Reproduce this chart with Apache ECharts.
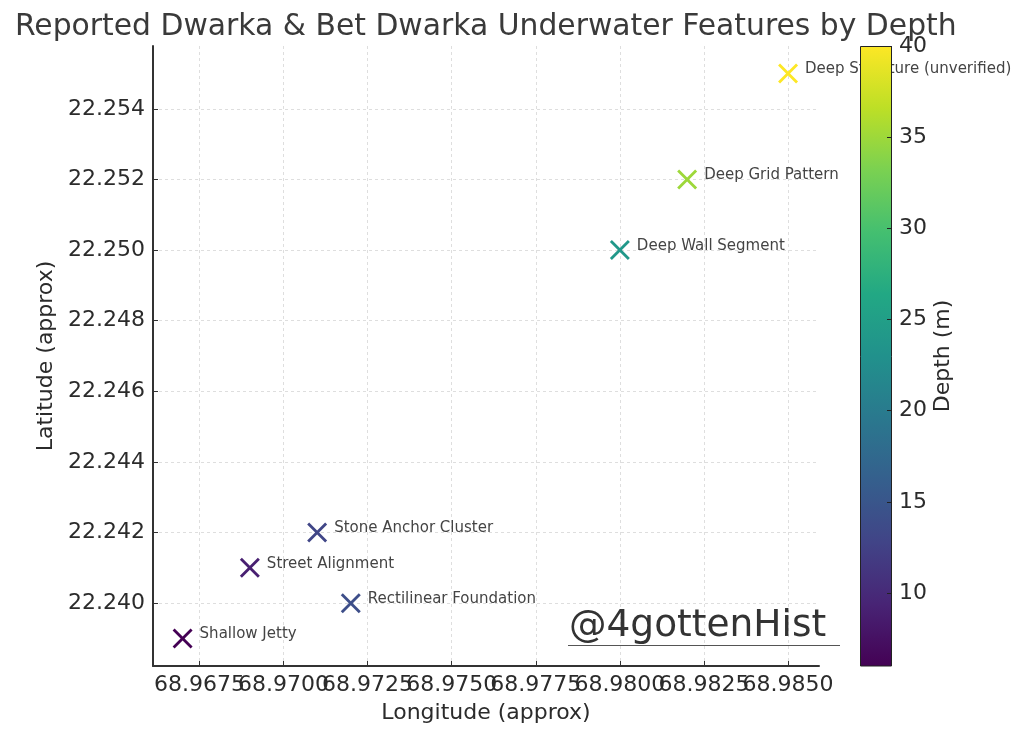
<!DOCTYPE html>
<html><head><meta charset="utf-8">
<style>html,body{margin:0;padding:0;background:#fff}#c{width:1024px;height:736px}</style>
<script src="https://cdn.jsdelivr.net/npm/echarts@6/dist/echarts.min.js"></script>
</head><body><div id="c"></div>
<script>
const names = ['Shallow Jetty','Street Alignment','Stone Anchor Cluster','Rectilinear Foundation','Deep Wall Segment','Deep Grid Pattern','Deep Structure (unverified)'];
const longitudes = [68.967,68.969,68.971,68.972,68.980,68.982,68.985];
const latitudes = [22.239,22.241,22.242,22.240,22.250,22.252,22.255];
const depths = [6,9,13,14,24,35,40];
const xTicks = [68.9675,68.97,68.9725,68.975,68.9775,68.98,68.9825,68.985];
const yTicks = [22.24,22.242,22.244,22.246,22.248,22.25,22.252,22.254];
const depthTicks = [10,15,20,25,30,35,40];
const viridis = ['#440154','#482475','#414487','#355f8d','#2a788e','#21918c','#22a884','#44bf70','#7ad151','#bddf26','#fde725'];
const xRange = [68.96612,68.98592], yRange = [22.23822,22.25578], depthRange = [6,40];
const FONT = 'DejaVu Sans', INK = '#2b2b2b';
const X_MARK = 'path://M1 0L5 4L9 0L10 1L6 5L10 9L9 10L5 6L1 10L0 9L4 5L0 1Z';
const grid = {type:[3,3],color:'#dedede',width:1};
const chart = echarts.init(document.getElementById('c'));
chart.setOption({
  animation:false,
  backgroundColor:'#fff',
  title:{text:'Reported Dwarka & Bet Dwarka Underwater Features by Depth',left:10,top:7,
    textStyle:{fontFamily:FONT,fontSize:29.8,fontWeight:'normal',color:'#3a3a3a'}},
  grid:[{left:153,right:205,top:46,bottom:70},{left:860,width:32,top:46,bottom:70}],
  xAxis:[{type:'value',gridIndex:0,min:xRange[0],max:xRange[1],
      name:'Longitude (approx)',nameLocation:'middle',nameGap:36,
      nameTextStyle:{fontFamily:FONT,fontSize:22,color:INK},
      axisLine:{onZero:false,lineStyle:{color:'#333',width:2}},
      axisTick:{inside:true,length:5,lineStyle:{color:'#333'},customValues:xTicks},
      axisLabel:{customValues:[xRange[0],...xTicks,xRange[1]],fontFamily:FONT,fontSize:22,color:INK,margin:8,hideOverlap:false,
        formatter:v=>xTicks.includes(v)?v.toFixed(4):''},
      splitLine:{show:true,lineStyle:grid},interval:0.0025},
    {type:'category',gridIndex:1,data:[''],show:false}],
  yAxis:[{type:'value',gridIndex:0,min:yRange[0],max:yRange[1],
      name:'Latitude (approx)',nameLocation:'middle',nameGap:94,
      nameTextStyle:{fontFamily:FONT,fontSize:22,color:INK},
      axisLine:{show:true,onZero:false,lineStyle:{color:'#333',width:2}},
      axisTick:{show:true,inside:true,length:5,lineStyle:{color:'#333'},customValues:yTicks},
      axisLabel:{customValues:yTicks,fontFamily:FONT,fontSize:22,color:INK,margin:8,padding:[10,0,0,0],
        showMinLabel:true,showMaxLabel:true,formatter:v=>v.toFixed(3)},
      splitLine:{show:true,lineStyle:grid},interval:0.002},
    {type:'value',gridIndex:1,position:'right',min:depthRange[0],max:depthRange[1],
      name:'Depth (m)',nameLocation:'middle',nameGap:40,nameRotate:90,
      nameTextStyle:{fontFamily:FONT,fontSize:22,color:INK},
      axisLine:{show:false},
      axisTick:{show:true,inside:true,length:5,lineStyle:{color:'#222'},customValues:depthTicks},
      axisLabel:{customValues:depthTicks,fontFamily:FONT,fontSize:22,color:INK,margin:7,padding:[10,0,0,0],
        showMinLabel:true,showMaxLabel:true},
      splitLine:{show:false},z:5,zlevel:2}],
  visualMap:{show:false,type:'continuous',seriesIndex:0,dimension:2,min:depthRange[0],max:depthRange[1],inRange:{color:viridis}},
  series:[
    {type:'scatter',xAxisIndex:0,yAxisIndex:0,symbol:X_MARK,symbolSize:20,itemStyle:{opacity:1},
      data:names.map((n,i)=>({name:n,value:[longitudes[i],latitudes[i],depths[i]]})),
      label:{show:true,position:'right',distance:7,offset:[0,-4],formatter:'{b}',
        fontFamily:FONT,fontSize:15,color:'#444'}},
    {type:'bar',xAxisIndex:1,yAxisIndex:1,barWidth:'100%',zlevel:1,silent:true,
      data:[depthRange[1]],
      itemStyle:{borderColor:'#222',borderWidth:1,
        color:new echarts.graphic.LinearGradient(0,1,0,0,viridis.map((c,i)=>({offset:i/(viridis.length-1),color:c})))}}
  ],
  graphic:[
    {type:'text',left:569,top:607,zlevel:3,style:{text:'@4gottenHist',fontFamily:FONT,fontSize:37.5,fill:'#333'}},
    {type:'rect',left:568,top:645,zlevel:3,shape:{width:272,height:1},style:{fill:'#555'}}
  ]
});
</script></body></html>
